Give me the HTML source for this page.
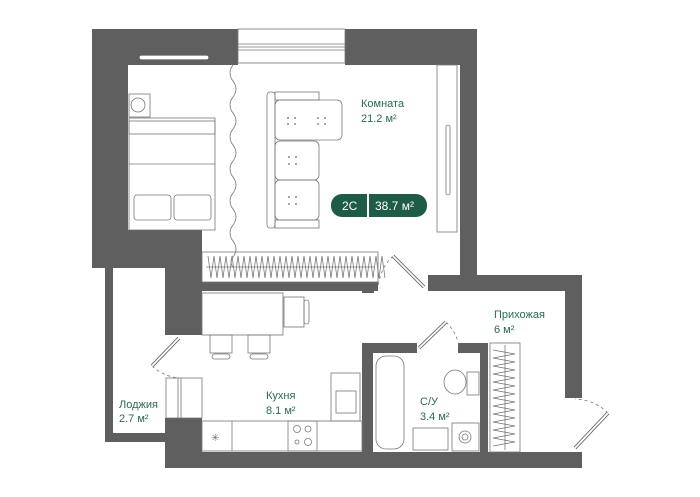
<!DOCTYPE html>
<html><head><meta charset="utf-8"><style>
html,body{margin:0;padding:0;background:#fff;width:700px;height:497px;overflow:hidden}
svg{display:block}
text{font-family:"Liberation Sans",sans-serif;fill:#2a6a50;font-size:11px}
</style></head><body>
<svg width="700" height="497" viewBox="0 0 700 497">
<g fill="#5f5f5f">
<rect x="92" y="29" width="146" height="36"/>
<rect x="345" y="29" width="132" height="36"/>
<rect x="92" y="29" width="36" height="239"/>
<rect x="92" y="230" width="110" height="38"/>
<rect x="460" y="29" width="17" height="246"/>
<rect x="165" y="230" width="37" height="105"/>
<rect x="105" y="268" width="8" height="174"/>
<rect x="105" y="433" width="60" height="9"/>
<rect x="165" y="418" width="37" height="50"/>
<rect x="165" y="452" width="417" height="16"/>
<rect x="202" y="282" width="176" height="9"/>
<rect x="362" y="282" width="12" height="11"/>
<rect x="428" y="275" width="154" height="16"/>
<rect x="565" y="275" width="17" height="123"/>
<rect x="362" y="343" width="11" height="109"/>
<rect x="362" y="343" width="55" height="10"/>
<rect x="458" y="343" width="30" height="10"/>
<rect x="480" y="343" width="8" height="109"/>
</g>
<g fill="none" stroke="#777" stroke-width="0.8">
<rect x="238" y="29" width="107" height="34" fill="#fff"/>
<line x1="238" y1="44" x2="345" y2="44"/><line x1="238" y1="47" x2="345" y2="47"/><line x1="238" y1="50" x2="345" y2="50"/>
<rect x="140" y="56" width="68" height="3" rx="1.5" fill="#fff" stroke="#fff"/>
<rect x="129" y="118" width="86" height="112"/>
<rect x="129" y="121" width="86" height="13"/>
<line x1="129" y1="164" x2="215" y2="164"/>
<rect x="134" y="195" width="37" height="25" rx="3"/>
<rect x="174" y="195" width="37" height="25" rx="3"/>
<rect x="129" y="94" width="21" height="23"/>
<circle cx="138" cy="105" r="7"/>
<path d="M233 65 q-6 8 0 16 q6 8 0 16 q-6 8 0 16 q6 8 0 16 q-6 8 0 16 q6 8 0 16 q-6 8 0 16 q6 8 0 16 q-6 8 0 16 q6 8 0 16 q-6 8 0 16 q6 8 0 16 q-4 5 0 10"/>
<rect x="267" y="92" width="8" height="136" rx="3"/>
<rect x="275" y="92" width="44" height="8"/>
<rect x="275" y="220" width="44" height="8"/>
<rect x="275" y="100" width="67" height="40" rx="5"/>
<rect x="275" y="141" width="44" height="39" rx="5"/>
<rect x="275" y="180" width="44" height="40" rx="5"/>
<rect x="437" y="65" width="20" height="167"/>
<rect x="446" y="125" width="4" height="70" rx="2"/>
<rect x="202" y="252" width="176" height="30"/>
<path d="M208 256 l3 22 l3 -22 l3 22 l3 -22 l3 22 l3 -22 l3 22 l3 -22 l3 22 l3 -22 l3 22 l3 -22 l3 22 l3 -22 l3 22 l3 -22 l3 22 l3 -22 l3 22 l3 -22 l3 22 l3 -22 l3 22 l3 -22 l3 22 l3 -22 l3 22 l3 -22 l3 22 l3 -22 l3 22 l3 -22 l3 22 l3 -22 l3 22 l3 -22 l3 22 l3 -22 l3 22 l3 -22 l3 22 l3 -22 l3 22 l3 -22 l3 22 l3 -22 l3 22 l3 -22 l3 22 l3 -22 l3 22 l3 -22 l3 22 l3 -22 l3 22 l3 -22 l3 22 l3 -22 l3 22"/>
<line x1="206" y1="267" x2="374" y2="267"/>
<rect x="202" y="293" width="81" height="42"/>
<rect x="284" y="297" width="20" height="30"/>
<rect x="304" y="300" width="5" height="24" rx="2.5"/>
<rect x="210" y="335" width="22" height="18"/><rect x="212" y="354" width="18" height="5" rx="2.5"/>
<rect x="248" y="335" width="22" height="18"/><rect x="250" y="354" width="18" height="5" rx="2.5"/>
<rect x="202" y="421" width="160" height="30"/>
<line x1="232" y1="421" x2="232" y2="451"/>
<rect x="288" y="421" width="29" height="30"/>
<circle cx="297" cy="429" r="3.5"/><circle cx="308" cy="429" r="3"/><circle cx="297" cy="442" r="2"/><circle cx="308" cy="442" r="3.5"/>
<rect x="331" y="373" width="29" height="48"/>
<rect x="336" y="391" width="20" height="22"/>
<text x="211" y="441" style="fill:#777;font-size:10px" stroke="none">✳</text>
<rect x="166" y="378" width="36" height="40" fill="#fff"/>
<line x1="178" y1="378" x2="178" y2="418"/><line x1="181" y1="378" x2="181" y2="418"/>
<rect x="376" y="356" width="28" height="93" rx="10"/>
<rect x="413" y="428" width="35" height="22"/>
<rect x="452" y="423" width="27" height="28"/>
<circle cx="465" cy="437" r="6"/><circle cx="465" cy="437" r="3"/>
<ellipse cx="455" cy="382" rx="11" ry="12"/>
<rect x="467" y="372" width="12" height="23"/>
<rect x="490" y="343" width="30" height="109"/>
<path d="M493 350 l22 4 l-22 4 l22 4 l-22 4 l22 4 l-22 4 l22 4 l-22 4 l22 4 l-22 4 l22 4 l-22 4 l22 4 l-22 4 l22 4 l-22 4 l22 4 l-22 4 l22 4 l-22 4 l22 4 l-22 4 l22 4 l-22 4"/>
<line x1="505" y1="345" x2="505" y2="450"/>
<path d="M393 256 Q380 268 378 288" stroke-dasharray="3,3"/>
<path d="M446 322 Q457 333 459 347" stroke-dasharray="3,3"/>
<path d="M152 366 Q163 376 178 378" stroke-dasharray="3,3"/>
<path d="M608 413 Q595 400 575 399" stroke-dasharray="3,3"/>
</g>
<g stroke-linecap="butt">
<g stroke="#666" stroke-width="3.5">
<line x1="424" y1="287" x2="393" y2="256"/>
<line x1="419" y1="348" x2="446" y2="322"/>
<line x1="179" y1="338" x2="152" y2="366"/>
<line x1="575" y1="448" x2="608" y2="413"/>
</g>
<g stroke="#fff" stroke-width="1.8">
<line x1="424" y1="287" x2="393" y2="256"/>
<line x1="419" y1="348" x2="446" y2="322"/>
<line x1="179" y1="338" x2="152" y2="366"/>
<line x1="575" y1="448" x2="608" y2="413"/>
</g>
</g>
<g fill="#666">
<circle cx="288" cy="118" r="0.9"/><circle cx="295" cy="118" r="0.9"/><circle cx="288" cy="124" r="0.9"/><circle cx="295" cy="124" r="0.9"/>
<circle cx="318" cy="118" r="0.9"/><circle cx="325" cy="118" r="0.9"/><circle cx="318" cy="124" r="0.9"/><circle cx="325" cy="124" r="0.9"/>
<circle cx="289" cy="157" r="0.9"/><circle cx="296" cy="157" r="0.9"/><circle cx="289" cy="164" r="0.9"/><circle cx="296" cy="164" r="0.9"/>
<circle cx="289" cy="197" r="0.9"/><circle cx="296" cy="197" r="0.9"/><circle cx="289" cy="204" r="0.9"/><circle cx="296" cy="204" r="0.9"/>
</g>
<rect x="331" y="194" width="37" height="23" rx="11" fill="#1e5c48"/>
<rect x="350" y="194" width="17" height="23" fill="#1e5c48"/>
<rect x="369" y="194" width="58" height="23" rx="11" fill="#1e5c48"/>
<rect x="369" y="194" width="20" height="23" fill="#1e5c48"/>
<rect x="367" y="194" width="2" height="23" fill="#fff"/>
<text x="342" y="210" style="fill:#fff;font-size:12px">2C</text>
<text x="375" y="210" style="fill:#fff;font-size:12px">38.7 м²</text>
<text x="361" y="107">Комната</text><text x="361" y="122">21.2 м²</text>
<text x="494" y="318">Прихожая</text><text x="494" y="333">6 м²</text>
<text x="266" y="399">Кухня</text><text x="266" y="414">8.1 м²</text>
<text x="119" y="408">Лоджия</text><text x="119" y="422">2.7 м²</text>
<text x="420" y="405">С/У</text><text x="420" y="420">3.4 м²</text>
</svg>
</body></html>
